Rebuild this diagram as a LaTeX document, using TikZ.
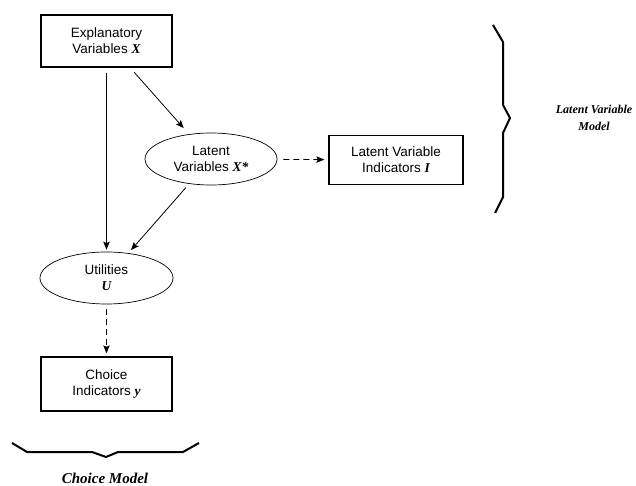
\documentclass[tikz,border=0pt]{standalone}
\usepackage{fontspec}
\setmainfont{Liberation Sans}
\newfontfamily\varfont{Liberation Serif}[BoldItalicFont=* Bold Italic]
\usetikzlibrary{arrows.meta,shapes.geometric}
\newcommand{\vv}[1]{{\varfont\bfseries\itshape #1}}
\tikzset{
  boxnode/.style={draw, line width=1.3pt, minimum width=131pt, minimum height=52pt, inner sep=0pt, align=center, font=\fontsize{13.5}{16}\selectfont},
  ellnode/.style={draw, ellipse, line width=0.7pt, minimum width=132pt, minimum height=52pt, inner sep=0pt, align=center, font=\fontsize{13.5}{16}\selectfont},
  arr/.style={line width=0.8pt, -{Stealth[length=8pt,width=6.5pt,inset=1.5pt]}},
  dasharr/.style={arr, dash pattern=on 6pt off 4pt},
  bracel/.style={line width=2pt, line join=miter},
  lbl/.style={align=center, font=\fontsize{12}{17}\selectfont\varfont\bfseries\itshape}
}
\begin{document}
\begin{tikzpicture}[x=1pt,y=-1pt]
\useasboundingbox (0,0) rectangle (636,486);
\node[boxnode] (ex) at (106.5,41) {Explanatory\\Variables \vv{X}};
\node[ellnode] (lat) at (211,159) {Latent\\Variables \vv{X*}};
\node[boxnode, minimum width=134pt, minimum height=49pt] (ind) at (396,160) {Latent Variable\\Indicators \vv{I}};
\node[ellnode, minimum width=133pt] (ut) at (106.5,278) {Utilities\\\vv{U}};
\node[boxnode, minimum height=54pt] (ch) at (106.5,384) {Choice\\Indicators \vv{y}};
\draw[arr, shorten <=6pt, shorten >=8pt] (ex) -- (lat);
\draw[arr, shorten <=5pt, shorten >=2pt] (ex) -- (ut);
\draw[arr, shorten <=5pt, shorten >=4pt] (lat) -- (ut);
\draw[dasharr, shorten <=6pt, shorten >=4pt] (lat) -- (ind);
\draw[dasharr, shorten <=5pt, shorten >=3pt] (ut) -- (ch);
% right brace
\draw[bracel] (493,25) -- (503,42) -- (503,105) -- (510,118) -- (503,133) -- (503,197) -- (495,213);
\node[lbl] (lvm) at (594,118) {Latent Variable\\Model};
% bottom brace
\draw[bracel] (12,443) -- (27,452) -- (92,452) -- (106,457) -- (118,452) -- (183,452) -- (199,443);
\node[lbl, font=\fontsize{15}{17}\selectfont\varfont\bfseries\itshape] (cm) at (105,478) {Choice Model};
\end{tikzpicture}
\end{document}
